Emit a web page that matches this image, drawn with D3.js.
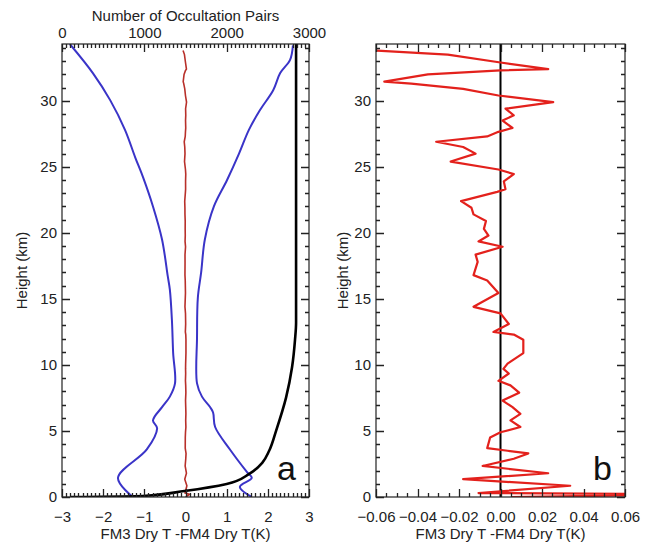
<!DOCTYPE html>
<html><head><meta charset="utf-8">
<script src="https://cdn.jsdelivr.net/npm/d3@7"></script>
<style>body{margin:0;background:#fff} text{font-family:"Liberation Sans",Arial,Helvetica,sans-serif}</style>
</head><body><svg id="c" width="651" height="543"></svg>
<script>
// ---- data ----
const diffHeights = [33.8,33.5,32.9,32.4,32.3,32.0,31.45,31.3,30.9,30.4,29.9,29.4,28.9,28.5,27.95,27.65,27.3,26.9,26.5,26.0,25.4,24.8,24.45,23.9,23.3,23.1,22.4,21.9,21.4,20.9,20.3,19.8,19.35,18.95,18.35,17.8,16.8,16.4,15.45,14.4,13.9,13.1,12.5,12.3,11.9,10.9,10.1,9.7,9.35,8.8,8.45,7.9,7.3,6.8,6.3,5.8,5.3,4.9,4.5,3.7,3.5,3.3,2.9,2.35,1.8,1.35,0.85,0.3,0.2,0.0];
const diffValues  = [-0.0595,-0.0254,0.0,0.023,0.0,-0.035,-0.056,-0.043,-0.018,-0.001,0.0254,0.0024,0.0064,0.001,0.0058,-0.001,-0.0064,-0.031,-0.018,-0.012,-0.024,-0.001,0.0064,0.0016,0.0024,-0.0016,-0.019,-0.014,-0.013,-0.007,-0.008,-0.0058,-0.0106,0.001,-0.012,-0.011,-0.013,-0.0064,-0.001,-0.013,0.0,0.004,-0.0034,0.0064,0.011,0.011,0.0034,0.0014,0.004,-0.001,0.0048,0.009,0.001,0.0058,0.0096,0.0048,0.0096,0.0,-0.005,-0.0064,0.0034,0.0134,0.0064,-0.0086,0.023,-0.018,0.0336,-0.0106,0.10,0.005];

const stdLeftHeights = [34.3,32.1,30.05,27.8,25.7,24.2,22.0,19.5,16.7,15.7,13.4,10.9,8.6,7.6,6.8,5.8,5.2,3.6,1.44,0.0];
const stdLeftValues  = [-2.81,-2.25,-1.83,-1.47,-1.22,-1.03,-0.79,-0.57,-0.43,-0.38,-0.33,-0.30,-0.255,-0.38,-0.57,-0.79,-0.69,-0.94,-1.64,-1.28];

const stdRightHeights = [34.2,33.1,32.1,30.8,29.3,27.8,26.0,24.0,22.0,19.5,17.0,15.1,12.1,8.6,7.6,6.8,6.4,5.3,3.6,1.9,1.44,0.76,0.0];
const stdRightValues  = [2.61,2.54,2.30,2.13,1.81,1.54,1.30,1.01,0.69,0.47,0.38,0.30,0.28,0.28,0.40,0.60,0.67,0.72,1.08,1.49,1.61,1.32,1.61];

const countHeights = [0.0,0.08,0.46,0.99,1.75,2.59,3.5,5.03,7.54,9.82,11.9,13.2,16.5,34.4];
const countValues  = [100,980,1488,2000,2274,2432,2516,2601,2722,2794,2830,2843,2843,2843];

const xTicksA = [-3,-2,-1,0,1,2,3];
const countTicks = [0,1000,2000,3000];
const heightTicks = [0,5,10,15,20,25,30];
const xTicksB = [-0.06,-0.04,-0.02,0.00,0.02,0.04,0.06];

// ---- layout ----
const svg = d3.select("#c");
const yTop = 44, yBot = 497;
const A = {l:62, r:309}, B = {l:376, r:625};
const y = d3.scaleLinear().domain([0,34.3]).range([yBot, yTop]);
const xA = d3.scaleLinear().domain([-3,3]).range([A.l, A.r]);
const xC = d3.scaleLinear().domain([0,3000]).range([A.l, A.r]);
const xB = d3.scaleLinear().domain([-0.06,0.06]).range([B.l, B.r]);
const FS = 15;

const defs = svg.append("defs");
defs.append("clipPath").attr("id","clipA").append("rect").attr("x",A.l).attr("y",yTop).attr("width",A.r-A.l).attr("height",yBot-yTop);
defs.append("clipPath").attr("id","clipB").append("rect").attr("x",B.l).attr("y",yTop).attr("width",B.r-B.l).attr("height",yBot-yTop);

function seq(a,b,s){const o=[];for(let v=a;v<=b+1e-9;v+=s)o.push(+v.toFixed(6));return o;}

function labelAxis(axisFn, scale, tx, ty, values, padding, fmt){
  const g = svg.append("g").attr("transform",`translate(${tx},${ty})`);
  g.call(axisFn(scale).tickValues(values).tickSize(0).tickPadding(padding).tickFormat(fmt));
  g.select(".domain").remove();
  g.selectAll(".tick line").remove();
  g.selectAll("text").attr("font-size",FS).attr("fill","#222").attr("font-family",'"Liberation Sans",Arial,sans-serif');
}

// ---- panel a lines ----
const gA = svg.append("g").attr("clip-path","url(#clipA)");
const lineStd = d3.line().x(d=>xA(d[1])).y(d=>y(d[0])).curve(d3.curveCatmullRom);
gA.append("path").datum(d3.zip(stdLeftHeights,stdLeftValues)).attr("d",lineStd)
  .attr("fill","none").attr("stroke","#3a34c8").attr("stroke-width",2);
gA.append("path").datum(d3.zip(stdRightHeights,stdRightValues)).attr("d",lineStd)
  .attr("fill","none").attr("stroke","#3a34c8").attr("stroke-width",2);
gA.append("path").datum(d3.zip(diffHeights,diffValues))
  .attr("d",d3.line().x(d=>xA(d[1])).y(d=>y(d[0])))
  .attr("fill","none").attr("stroke","#b8302a").attr("stroke-width",1.6);
gA.append("path").datum(d3.zip(countHeights,countValues))
  .attr("d",d3.line().x(d=>xC(d[1])).y(d=>y(d[0])).curve(d3.curveMonotoneY))
  .attr("fill","none").attr("stroke","#000").attr("stroke-width",2.6);

// ---- panel b lines ----
const gB = svg.append("g").attr("clip-path","url(#clipB)");
gB.append("line").attr("x1",xB(0)).attr("x2",xB(0)).attr("y1",yTop).attr("y2",yBot)
  .attr("stroke","#000").attr("stroke-width",2);
gB.append("path").datum(d3.zip(diffHeights,diffValues))
  .attr("d",d3.line().x(d=>xB(d[1])).y(d=>y(d[0])))
  .attr("fill","none").attr("stroke","#e3211c").attr("stroke-width",2.2).attr("stroke-linejoin","round");

// ---- tick marks (inward), one path per set, positions from the scales ----
let tickPath = "";
function addX(scale, values, len, bottom, top){
  values.forEach(v=>{
    const px = (Math.round(scale(v))+0.5).toFixed(1);
    if(bottom) tickPath += `M${px},${yBot}V${yBot-len}`;
    if(top) tickPath += `M${px},${yTop}V${yTop+len}`;
  });
}
function addY(P, values, len){
  values.forEach(v=>{
    const py = (Math.round(y(v))+0.5).toFixed(1);
    tickPath += `M${P.l},${py}H${P.l+len}M${P.r},${py}H${P.r-len}`;
  });
}
addX(xA, seq(-3,3,0.1), 4, true, false);
addX(xA, xTicksA, 8, true, false);
addX(xC, seq(0,3000,50), 4, false, true);
addX(xC, countTicks, 8, false, true);
addY(A, seq(0,34,1), 4);
addY(A, heightTicks, 8);
addX(xB, seq(-0.06,0.06,0.005), 4, true, true);
addX(xB, xTicksB, 8, true, true);
addY(B, seq(0,34,1), 4);
addY(B, heightTicks, 8);
svg.append("path").attr("d",tickPath).attr("fill","none").attr("stroke","#222").attr("stroke-width",1.3);

// labels
labelAxis(d3.axisBottom, xA, 0, yBot, xTicksA, 14, d3.format("d"));
labelAxis(d3.axisTop, xC, 0, yTop, countTicks, 6, d3.format("d"));
labelAxis(d3.axisLeft, y, A.l, 0, heightTicks, 5, d3.format("d"));
labelAxis(d3.axisBottom, xB, 0, yBot, xTicksB, 14, d3.format(".2f"));
labelAxis(d3.axisLeft, y, B.l, 0, heightTicks, 5, d3.format("d"));

// frames
[A,B].forEach(P=>{
  svg.append("rect").attr("x",P.l).attr("y",yTop).attr("width",P.r-P.l).attr("height",yBot-yTop)
    .attr("fill","none").attr("stroke","#222").attr("stroke-width",1.2);
});

// ---- texts ----
svg.append("text").attr("x",xC(1500)).attr("y",21).attr("text-anchor","middle").attr("font-size",FS).attr("fill","#222").text("Number of Occultation Pairs");
[ (A.l+A.r)/2, (B.l+B.r)/2 ].forEach(cx=>{
  svg.append("text").attr("x",cx).attr("y",538.5).attr("text-anchor","middle").attr("font-size",FS).attr("fill","#222").text("FM3 Dry T -FM4 Dry T(K)");
});
[[22, (yTop+yBot)/2],[343,(yTop+yBot)/2]].forEach(([tx,ty])=>{
  svg.append("text").attr("transform",`translate(${tx+5},${ty}) rotate(-90)`).attr("text-anchor","middle")
    .attr("font-size",FS).attr("fill","#222").text("Height (km)");
});
svg.append("text").attr("x",277).attr("y",480).attr("font-size",34).attr("fill","#111").text("a");
svg.append("text").attr("x",593).attr("y",480).attr("font-size",34).attr("fill","#111").text("b");
</script></body></html>
